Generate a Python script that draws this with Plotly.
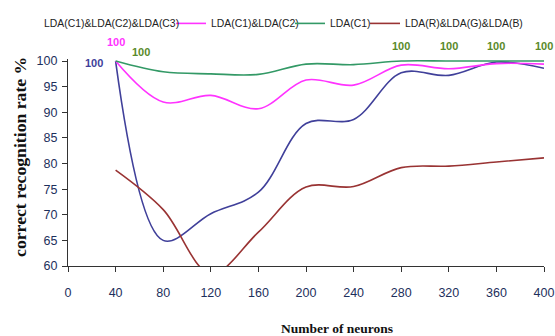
import plotly.graph_objects as go

neurons = [40, 80, 120, 160, 200, 240, 280, 320, 360, 400]
lda_c1_c2_c3 = [100, 65.0, 70.2, 74.4, 87.8, 88.6, 97.7, 97.2, 99.8, 98.6]
lda_c1_c2 = [100, 92.0, 93.3, 90.7, 96.3, 95.3, 99.2, 98.5, 99.5, 99.4]
lda_c1 = [100, 97.9, 97.5, 97.4, 99.4, 99.3, 100, 100, 100, 100]
lda_rgb = [78.7, 71.0, 58.5, 66.6, 75.4, 75.5, 79.2, 79.5, 80.3, 81.1]

series_names = ["LDA(C1)&LDA(C2)&LDA(C3)", "LDA(C1)&LDA(C2)", "LDA(C1)", "LDA(R)&LDA(G)&LDA(B)"]
series_values = [lda_c1_c2_c3, lda_c1_c2, lda_c1, lda_rgb]
series_colors = ["#40409a", "#ff33ff", "#339966", "#993333"]
legend_ids = [None, "legend", "legend2", "legend3"]

x_ticks = [0, 40, 80, 120, 160, 200, 240, 280, 320, 360, 400]
y_ticks = [60, 65, 70, 75, 80, 85, 90, 95, 100]

fig = go.Figure()
for name, vals, col, lg in zip(series_names, series_values, series_colors, legend_ids):
    tr = go.Scatter(
        x=neurons, y=vals, name=name, mode="lines",
        line=dict(color=col, width=1.6, shape="spline", smoothing=1),
        showlegend=lg is not None,
    )
    if lg is not None:
        tr.legend = lg
    fig.add_trace(tr)

legend_font = dict(family="Liberation Sans", size=10.4, color="#222222")
leg_y = 1.172
# first legend label (its line sample is cut off in the reference)
fig.add_annotation(xref="paper", yref="paper", x=-0.0536, y=leg_y, xanchor="left", yanchor="middle",
                   text=series_names[0], showarrow=False, font=legend_font)

# data labels "100"
label_font = dict(family="Liberation Sans", size=11, weight="bold")
fig.add_annotation(x=neurons[0], y=lda_c1_c2_c3[0], text="100", showarrow=False,
                   xshift=-22, yshift=-2, font=dict(label_font, color="#40409a"))
fig.add_annotation(x=neurons[0], y=lda_c1_c2[0], text="100", showarrow=False,
                   xshift=0, yshift=19, font=dict(label_font, color="#ff33ff"))
fig.add_annotation(x=neurons[0], y=lda_c1[0], text="100", showarrow=False,
                   xshift=25, yshift=9.5, font=dict(label_font, color="#5a8a2a"))
for xv, yv in zip(neurons, lda_c1):
    if xv >= 280:
        fig.add_annotation(x=xv, y=yv, text="100", showarrow=False,
                           xshift=0, yshift=15, font=dict(label_font, color="#5a8a2a"))

title_font = dict(family="Liberation Serif", weight="bold", color="#111111")
# axis titles (placed as in the reference, slightly off-centre)
fig.add_annotation(xref="paper", yref="paper", x=0.565, y=-0.301, xanchor="center", yanchor="middle",
                   text="Number of neurons", showarrow=False, font=dict(title_font, size=13.5))
fig.add_annotation(xref="paper", yref="paper", x=-0.1008, y=0.527, xanchor="center", yanchor="middle",
                   text="correct recognition rate %", textangle=-90, showarrow=False,
                   font=dict(title_font, size=17.7))

tick_font = dict(family="Liberation Sans", size=12.5, color="#1d2f5c")
leg_common = dict(orientation="h", xanchor="left", y=leg_y, yanchor="middle",
                  font=legend_font, bgcolor="rgba(0,0,0,0)", itemwidth=30, borderwidth=0)

fig.update_layout(
    width=555, height=336,
    margin=dict(l=68, r=11, t=58.6, b=70.3, pad=0, autoexpand=False),
    paper_bgcolor="white", plot_bgcolor="white",
    legend=dict(leg_common, x=0.2164),
    legend2=dict(leg_common, x=0.4664),
    legend3=dict(leg_common, x=0.624),
    xaxis=dict(
        range=[0, 400], tickvals=x_ticks, ticktext=[str(v) for v in x_ticks],
        showgrid=False, zeroline=False, showline=True, linecolor="#333333", linewidth=1.3,
        ticks="outside", ticklen=5, tickcolor="#333333", tickwidth=1.3,
        tickfont=tick_font, ticklabelstandoff=10, automargin=False,
    ),
    yaxis=dict(
        range=[60, 100.4], tickvals=y_ticks, ticktext=[str(v) for v in y_ticks],
        showgrid=False, zeroline=False, showline=True, linecolor="#333333", linewidth=1.3,
        ticks="outside", ticklen=5, tickcolor="#333333", tickwidth=1.3,
        tickfont=tick_font, ticklabelstandoff=2, automargin=False,
    ),
)

fig.write_html("out.html", config={"displayModeBar": False},
               post_script="document.body.style.margin='0';")
